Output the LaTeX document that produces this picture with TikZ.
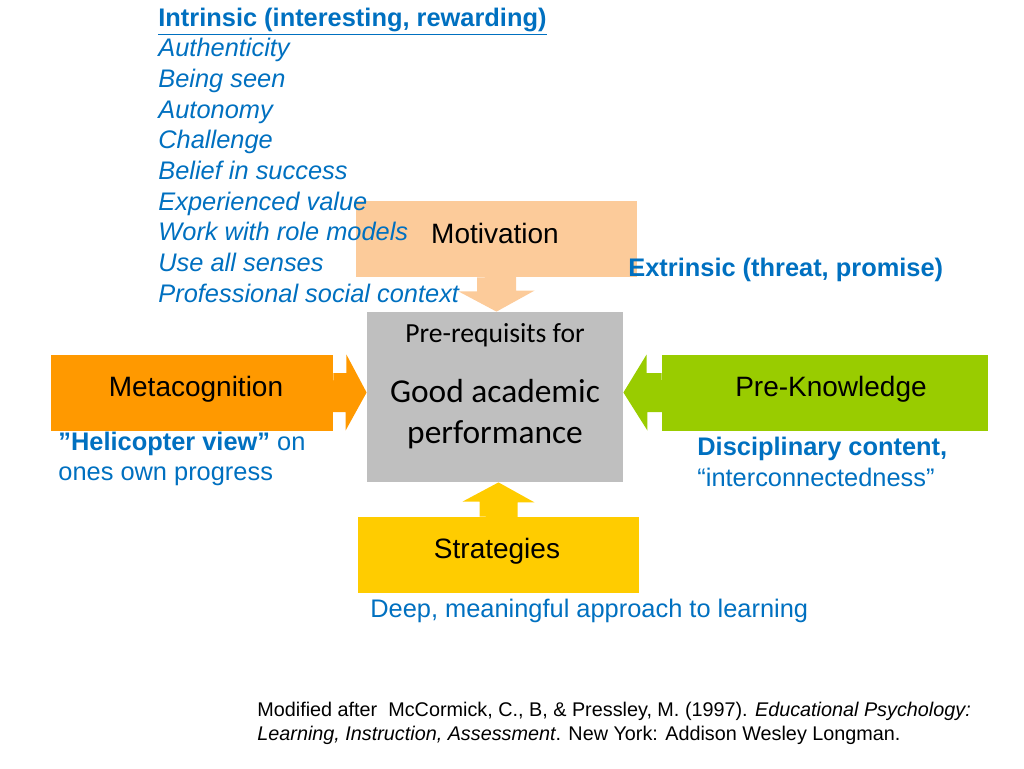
\documentclass[tikz,border=0pt]{standalone}
\usepackage{fontspec}
\setmainfont{Liberation Sans}
\newfontfamily\calibri{Carlito}
\definecolor{txtblue}{HTML}{0070C0}
\definecolor{peach}{HTML}{FCCB9A}
\definecolor{metaorange}{HTML}{FF9900}
\definecolor{knowgreen}{HTML}{99CC00}
\definecolor{stratyellow}{HTML}{FFCC00}
\definecolor{perfgray}{HTML}{BFBFBF}

\tikzset{
  box/.style={rectangle, inner sep=0pt, minimum height=38pt},
  boxtext/.style={font=\fontsize{14}{16}\selectfont, text=black, inner sep=0pt, anchor=base},
  note/.style={font=\fontsize{12.7}{15.4}\selectfont, text=txtblue, inner sep=0pt, anchor=base west},
  listitem/.style={note, font=\fontsize{12.7}{15.4}\selectfont\itshape},
}

\begin{document}
\begin{tikzpicture}[x=0.5pt,y=-0.5pt]
\useasboundingbox (0,0) rectangle (1024,768);

% boxes
\node[box, fill=peach, minimum width=140.5pt] (motiv) at (496.5,239) {};
\node[box, fill=metaorange, minimum width=141pt] (meta) at (192,392.5) {};
\node[box, fill=knowgreen, minimum width=163pt] (know) at (825,392.5) {};
\node[box, fill=stratyellow, minimum width=140.5pt] (strat) at (498.5,555) {};
\node[box, fill=perfgray, minimum width=128pt, minimum height=85pt] (perf) at (495,397) {};

% block arrows into the centre
\fill[peach] (motiv.south) ++(-19.5,0) -- ++(0,14) -- ++(-18.5,0)
  -- (perf.north -| motiv.south) -- ++(38,-21) -- ++(-18.5,0) -- ++(0,-14) -- cycle;
\fill[metaorange] (meta.east) ++(0,-19.5) -- ++(13,0) -- ++(0,-18.5)
  -- (perf.west |- meta.east) -- ++(-21,38) -- ++(0,-18.5) -- ++(-13,0) -- cycle;
\fill[knowgreen] (know.west) ++(0,-19.5) -- ++(-15,0) -- ++(0,-18.5)
  -- (perf.east |- know.west) -- ++(24,38) -- ++(0,-18.5) -- ++(15,0) -- cycle;
\fill[stratyellow] (strat.north) ++(-19,0) -- ++(0,-15) -- ++(-17,0)
  -- (perf.south -| strat.north) -- ++(36,20) -- ++(-17,0) -- ++(0,15) -- cycle;

% box texts
\node[boxtext] (motivtxt) at (495,243) {Motivation};
\node[boxtext] (metatxt) at (196,396) {Metacognition};
\node[boxtext] (knowtxt) at (831,396) {Pre-Knowledge};
\node[boxtext] (strattxt) at (497,558) {Strategies};
\node[boxtext, font=\calibri\fontsize{13.8}{16}\selectfont] (perftop) at (495,342) {Pre-requisits for};
\node[boxtext, font=\calibri\fontsize{16.7}{18}\selectfont] (perfmid) at (495,402) {Good academic};
\node[boxtext, font=\calibri\fontsize{16.7}{18}\selectfont] (perfbot) at (495,443) {performance};

% intrinsic list
\node[note, font=\fontsize{12.7}{15.4}\selectfont\bfseries] (intr) at (158,26) {\underline{Intrinsic (interesting, rewarding)}};
\foreach \t [count=\i] in {Authenticity, Being seen, Autonomy, Challenge, Belief in success,
  Experienced value, Work with role models, Use all senses, Professional social context}
  \node[listitem] (item\i) at (158,26+30.67*\i) {\t};

% notes
\node[note, font=\fontsize{12.7}{15.4}\selectfont\bfseries] (extr) at (628,276) {Extrinsic (threat, promise)};
\node[note] (heli1) at (58,450) {\textbf{”Helicopter view”} on};
\node[note] (heli2) at (58,480) {ones own progress};
\node[note, font=\fontsize{12.7}{15.4}\selectfont\bfseries] (disc1) at (697,455) {Disciplinary content,};
\node[note] (disc2) at (697,486) {“interconnectedness”};
\node[note] (deep) at (370,617) {Deep, meaningful approach to learning};

% reference
\node[note, text=black, font=\fontsize{9.9}{12}\selectfont] (ref1) at (257,716)
  {Modified after\ \ McCormick, C., B, \& Pressley, M. (1997). \textit{Educational Psychology:}};
\node[note, text=black, font=\fontsize{9.9}{12}\selectfont] (ref2) at (257,740)
  {\textit{Learning, Instruction, Assessment}. New York: Addison Wesley Longman.};
\end{tikzpicture}
\end{document}
